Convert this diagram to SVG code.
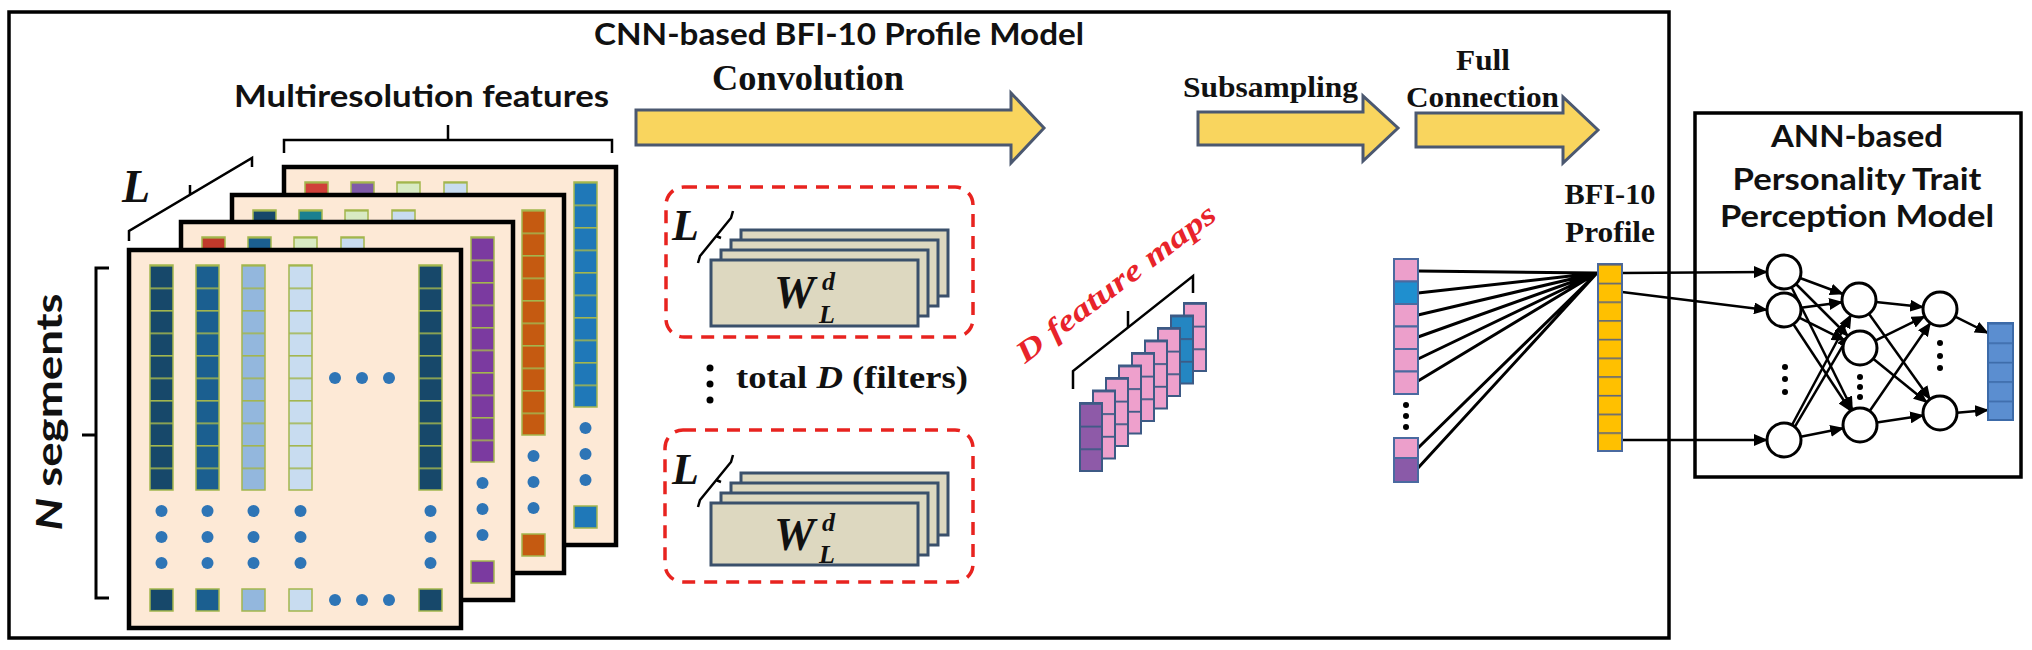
<svg xmlns="http://www.w3.org/2000/svg" width="2032" height="650" viewBox="0 0 2032 650">
<style>
.cal{font-family:Lato,"Liberation Sans",sans-serif;font-weight:bold;fill:#111}
.tms{font-family:"Liberation Serif",serif;font-weight:bold;fill:#111}
.it{font-style:italic}
.red{fill:#e8232a}
.sh{fill:#fde9d6;stroke:#000;stroke-width:4.5}
.cell{stroke:#a3b64e;stroke-width:1.5}
.dot{fill:#2e75b6}
.ya{fill:#f9d55e;stroke:#4b5870;stroke-width:3}
.flt{fill:#ddd8c0;stroke:#3a506b;stroke-width:3}
.dash{fill:none;stroke:#e8231f;stroke-width:3.5;stroke-dasharray:13 9}
.br{fill:none;stroke:#000;stroke-width:2.5}
.ln{stroke:#000;stroke-width:3;fill:none}
.arr{stroke:#000;stroke-width:2.5;fill:none;marker-end:url(#ah)}
.node{fill:#fff;stroke:#000;stroke-width:3}
.bk{fill:#000}
.vc{stroke:#4a6aa0;stroke-width:2}
.box{fill:none;stroke:#000;stroke-width:3.5}
</style>
<defs>
<marker id="ah" markerUnits="userSpaceOnUse" markerWidth="14" markerHeight="12" refX="13" refY="6" orient="auto" viewBox="0 0 14 12"><path d="M0,0 L14,6 L0,12 z" fill="#000"/></marker>
<pattern id="g10" patternUnits="objectBoundingBox" width="1" height="0.1"><rect width="40" height="1.6" fill="#a3b64e"/></pattern>
<pattern id="g3" patternUnits="objectBoundingBox" width="1" height="0.33333"><rect width="40" height="1.8" fill="#3d5a85"/></pattern>
<pattern id="gy" patternUnits="objectBoundingBox" width="1" height="0.1"><rect width="40" height="1.6" fill="#5a6480"/></pattern>
<pattern id="gb" patternUnits="objectBoundingBox" width="1" height="0.2"><rect width="40" height="1.6" fill="#3c6aa8"/></pattern>
<g id="sheet">
<rect class="sh" width="332" height="378"/>
<rect x="21" y="15" width="23" height="225" style="fill:var(--c1)"/>
<rect x="67" y="15" width="23" height="225" style="fill:var(--c2)"/>
<rect x="113" y="15" width="23" height="225" style="fill:var(--c3)"/>
<rect x="160" y="15" width="23" height="225" style="fill:var(--c4)"/>
<rect x="290" y="15" width="23" height="225" style="fill:var(--c5)"/>
<g class="cell" fill="url(#g10)">
<rect x="21" y="15" width="23" height="225"/>
<rect x="67" y="15" width="23" height="225"/>
<rect x="113" y="15" width="23" height="225"/>
<rect x="160" y="15" width="23" height="225"/>
<rect x="290" y="15" width="23" height="225"/>
</g>
<rect class="cell" x="21" y="339" width="23" height="22" style="fill:var(--c1)"/>
<rect class="cell" x="67" y="339" width="23" height="22" style="fill:var(--c2)"/>
<rect class="cell" x="113" y="339" width="23" height="22" style="fill:var(--c3)"/>
<rect class="cell" x="160" y="339" width="23" height="22" style="fill:var(--c4)"/>
<rect class="cell" x="290" y="339" width="23" height="22" style="fill:var(--c5)"/>
<g class="dot">
<circle cx="32.5" cy="261" r="6"/><circle cx="32.5" cy="287" r="6"/><circle cx="32.5" cy="313" r="6"/>
<circle cx="78.5" cy="261" r="6"/><circle cx="78.5" cy="287" r="6"/><circle cx="78.5" cy="313" r="6"/>
<circle cx="124.5" cy="261" r="6"/><circle cx="124.5" cy="287" r="6"/><circle cx="124.5" cy="313" r="6"/>
<circle cx="171.5" cy="261" r="6"/><circle cx="171.5" cy="287" r="6"/><circle cx="171.5" cy="313" r="6"/>
<circle cx="301.5" cy="261" r="6"/><circle cx="301.5" cy="287" r="6"/><circle cx="301.5" cy="313" r="6"/>
<circle cx="206" cy="128" r="6"/><circle cx="233" cy="128" r="6"/><circle cx="260" cy="128" r="6"/>
<circle cx="206" cy="350" r="6"/><circle cx="233" cy="350" r="6"/><circle cx="260" cy="350" r="6"/>
</g>
</g>
<g id="fm"><rect width="22" height="68" style="fill:var(--f)"/><rect width="22" height="68" fill="url(#g3)" stroke="#3d5a85" stroke-width="2"/></g>
</defs>
<rect width="2032" height="650" fill="#fff"/>

<g id="cnn-box">
<rect class="box" x="9" y="12" width="1660" height="626"/>
<text class="cal" x="594" y="45" font-size="30" textLength="490" lengthAdjust="spacingAndGlyphs">CNN-based BFI-10 Profile Model</text>
</g>

<g id="multiresolution-features">
<text class="cal" x="234" y="107" font-size="31" textLength="375" lengthAdjust="spacingAndGlyphs">Multiresolution features</text>
<path class="br" d="M284,153 L284,140 L612,140 L612,153 M448,140 L448,125"/>
<text class="tms it" x="122" y="202" font-size="46">L</text>
<path class="br" d="M129,241 L129,231 L252,158 L252,167 M190,194 L190,185"/>
<use href="#sheet" x="284" y="167" style="--c1:#d0403a;--c2:#7f5aa8;--c3:#d8eac3;--c4:#c8dcf0;--c5:#1f78b8"/>
<use href="#sheet" x="232" y="195" style="--c1:#17486a;--c2:#1a8090;--c3:#d8eac3;--c4:#c8dcf0;--c5:#c55a11"/>
<use href="#sheet" x="181" y="222" style="--c1:#c0392b;--c2:#1b5f90;--c3:#d8eac3;--c4:#c8dcf0;--c5:#7b3aa0"/>
<use href="#sheet" x="129" y="250" style="--c1:#17486a;--c2:#1b5f90;--c3:#93b7dd;--c4:#c8dcf0;--c5:#17486a"/>
<path class="ln" d="M109,268 L96,268 L96,598 L109,598 M96,435 L82,435"/>
<text class="cal" transform="translate(62,412) rotate(-90)" text-anchor="middle" font-size="36" textLength="237" lengthAdjust="spacingAndGlyphs"><tspan font-style="italic">N</tspan> segments</text>
</g>

<g id="convolution">
<text class="tms" x="712" y="90" font-size="35" textLength="192" lengthAdjust="spacingAndGlyphs">Convolution</text>
<polygon class="ya" points="636,110 1011,110 1011,93 1044,128 1011,163 1011,145 636,145"/>
</g>

<g id="filter-1">
<rect class="dash" x="666" y="187" width="307" height="150" rx="18"/>
<text class="tms it" x="672" y="240" font-size="44">L</text>
<path class="br" d="M698,263 L700,256 L731,218 L733,211 M716,236 L721,238"/>
<rect class="flt" x="741" y="230" width="207" height="66"/>
<rect class="flt" x="731" y="240" width="207" height="66"/>
<rect class="flt" x="721" y="250" width="207" height="66"/>
<rect class="flt" x="711" y="260" width="207" height="66"/>
<text class="tms it" x="774" y="308" font-size="46">W</text>
<text class="tms it" x="822" y="290" font-size="26">d</text>
<text class="tms it" x="819" y="323" font-size="26">L</text>
</g>

<g id="total-filters">
<circle class="bk" cx="710" cy="368" r="3.5"/><circle class="bk" cx="710" cy="384" r="3.5"/><circle class="bk" cx="710" cy="400" r="3.5"/>
<text class="tms" x="736" y="388" font-size="31" textLength="232" lengthAdjust="spacingAndGlyphs">total <tspan font-style="italic">D</tspan> (filters)</text>
</g>

<g id="filter-2">
<rect class="dash" x="665" y="430" width="308" height="152" rx="18"/>
<text class="tms it" x="672" y="484" font-size="44">L</text>
<path class="br" d="M698,507 L700,500 L731,462 L733,455 M716,480 L721,482"/>
<rect class="flt" x="741" y="473" width="207" height="62"/>
<rect class="flt" x="731" y="483" width="207" height="62"/>
<rect class="flt" x="721" y="493" width="207" height="62"/>
<rect class="flt" x="711" y="503" width="207" height="62"/>
<text class="tms it" x="774" y="550" font-size="46">W</text>
<text class="tms it" x="822" y="531" font-size="26">d</text>
<text class="tms it" x="819" y="563" font-size="26">L</text>
</g>

<g id="feature-maps">
<text class="tms it red" transform="translate(1025,364) rotate(-37)" font-size="30" textLength="242" lengthAdjust="spacingAndGlyphs">D feature maps</text>
<path class="br" d="M1073,389 L1073,371 L1193,276 L1193,293 M1128,328 L1128,311"/>
<use href="#fm" x="1184" y="303" style="--f:#eea0cc"/>
<use href="#fm" x="1171" y="315.5" style="--f:#2486c2"/>
<use href="#fm" x="1158" y="328" style="--f:#eea0cc"/>
<use href="#fm" x="1145" y="340.5" style="--f:#eea0cc"/>
<use href="#fm" x="1132" y="353" style="--f:#eea0cc"/>
<use href="#fm" x="1119" y="365.5" style="--f:#eea0cc"/>
<use href="#fm" x="1106" y="378" style="--f:#eea0cc"/>
<use href="#fm" x="1093" y="390.5" style="--f:#eea0cc"/>
<use href="#fm" x="1080" y="403" style="--f:#8e5aa8"/>
</g>

<g id="subsampling">
<text class="tms" x="1183" y="97" font-size="30" textLength="175" lengthAdjust="spacingAndGlyphs">Subsampling</text>
<polygon class="ya" points="1198,112 1363,112 1363,96 1398,128 1363,161 1363,145 1198,145"/>
</g>

<g id="full-connection">
<text class="tms" x="1456" y="70" font-size="30" textLength="54" lengthAdjust="spacingAndGlyphs">Full</text>
<text class="tms" x="1406" y="107" font-size="30" textLength="153" lengthAdjust="spacingAndGlyphs">Connection</text>
<polygon class="ya" points="1416,113 1563,113 1563,97 1598,130 1563,163 1563,147 1416,147"/>
</g>

<g id="connectors">
<path class="ln" d="M1418,271 L1597,273 M1418,293 L1597,273 M1418,315 L1597,273 M1418,337 L1597,273 M1418,359 L1597,273 M1418,381 L1597,273 M1418,448 L1597,273 M1418,468 L1597,273"/>
<path class="arr" d="M1622,273 L1767,272"/>
<path class="arr" d="M1622,292 L1767,310"/>
<path class="arr" d="M1622,440 L1767,440"/>
<path class="arr" d="M1800,278 L1843,294"/>
<path class="arr" d="M1796,284 L1848,336"/>
<path class="arr" d="M1791.6,287.2 L1852.4,409.8"/>
<path class="arr" d="M1800.9,307.8 L1842.1,302.2"/>
<path class="arr" d="M1799.2,317.6 L1844.8,340.4"/>
<path class="arr" d="M1793.4,324.2 L1850.6,410.8"/>
<path class="arr" d="M1792,425 L1851,315"/>
<path class="arr" d="M1794.8,426.9 L1849.2,334.9"/>
<path class="arr" d="M1800.7,436.7 L1843.3,428.3"/>
<path class="arr" d="M1875.9,301.9 L1923.1,307.1"/>
<path class="arr" d="M1868.9,313.8 L1930.1,399.2"/>
<path class="arr" d="M1875.3,340.6 L1924.7,316.4"/>
<path class="arr" d="M1873.2,358.7 L1926.8,402.3"/>
<path class="arr" d="M1869.7,411 L1930.3,323"/>
<path class="arr" d="M1876.8,422.5 L1923.2,415.5"/>
<path class="arr" d="M1955.2,316.6 L1988,333"/>
<path class="arr" d="M1957,412.7 L1988,410"/>
</g>

<g id="fc-input-vector">
<rect class="vc" x="1394" y="259" width="24" height="22.5" fill="#ec9fcb"/>
<rect class="vc" x="1394" y="281.5" width="24" height="22.5" fill="#1f8fcf"/>
<rect class="vc" x="1394" y="304" width="24" height="22.5" fill="#ec9fcb"/>
<rect class="vc" x="1394" y="326.5" width="24" height="22.5" fill="#ec9fcb"/>
<rect class="vc" x="1394" y="349" width="24" height="22.5" fill="#ec9fcb"/>
<rect class="vc" x="1394" y="371.5" width="24" height="22.5" fill="#ec9fcb"/>
<circle class="bk" cx="1406" cy="405" r="3"/><circle class="bk" cx="1406" cy="416" r="3"/><circle class="bk" cx="1406" cy="427" r="3"/>
<rect class="vc" x="1394" y="438" width="24" height="20" fill="#ec9fcb"/>
<rect class="vc" x="1394" y="458" width="24" height="24" fill="#8a5aa8"/>
</g>

<g id="bfi-profile">
<text class="tms" x="1610" y="204" font-size="29" text-anchor="middle" textLength="91" lengthAdjust="spacingAndGlyphs">BFI-10</text>
<text class="tms" x="1610" y="242" font-size="29" text-anchor="middle" textLength="90" lengthAdjust="spacingAndGlyphs">Profile</text>
<rect class="vc" x="1598" y="264" width="24" height="187" fill="#ffc000"/>
<rect x="1598" y="264" width="24" height="187" fill="url(#gy)"/>
</g>

<g id="ann-model">
<rect class="box" x="1695" y="113" width="326" height="364"/>
<text class="cal" x="1857" y="147" font-size="31" text-anchor="middle" textLength="172" lengthAdjust="spacingAndGlyphs">ANN-based</text>
<text class="cal" x="1857" y="190" font-size="31" text-anchor="middle" textLength="249" lengthAdjust="spacingAndGlyphs">Personality Trait</text>
<text class="cal" x="1857" y="227" font-size="31" text-anchor="middle" textLength="274" lengthAdjust="spacingAndGlyphs">Perception Model</text>
<circle class="node" cx="1784" cy="272" r="17"/>
<circle class="node" cx="1784" cy="310" r="17"/>
<circle class="node" cx="1784" cy="440" r="17"/>
<circle class="node" cx="1859" cy="300" r="17"/>
<circle class="node" cx="1860" cy="348" r="17"/>
<circle class="node" cx="1860" cy="425" r="17"/>
<circle class="node" cx="1940" cy="309" r="17"/>
<circle class="node" cx="1940" cy="413" r="17"/>
<g class="bk">
<circle cx="1785" cy="367" r="3"/><circle cx="1785" cy="379" r="3"/><circle cx="1785" cy="392" r="3"/>
<circle cx="1860" cy="377" r="3"/><circle cx="1860" cy="387" r="3"/><circle cx="1860" cy="397" r="3"/>
<circle cx="1940" cy="343" r="3"/><circle cx="1940" cy="356" r="3"/><circle cx="1940" cy="368" r="3"/>
</g>
<rect x="1988" y="323" width="25" height="97" fill="#5b8ed0" stroke="#3c6aa8" stroke-width="2"/>
<rect x="1988" y="323" width="25" height="97" fill="url(#gb)"/>
</g>
</svg>
